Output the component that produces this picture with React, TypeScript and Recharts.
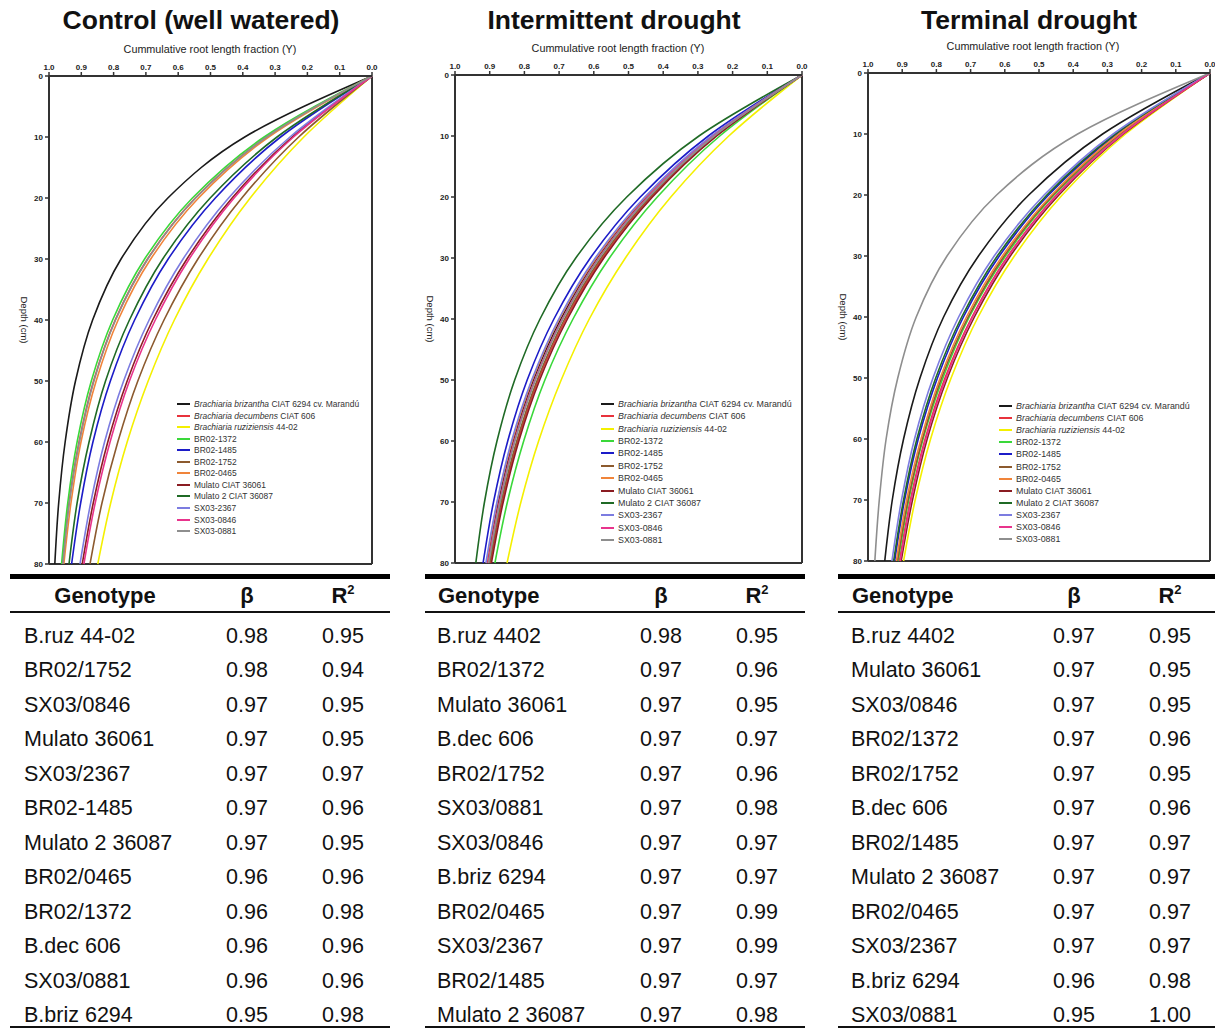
import React from "react";
import { LineChart, Line, XAxis, YAxis, ReferenceLine } from "recharts";

const FONT = "'Liberation Sans', Arial, sans-serif";

const depths = [0, 10, 20, 30, 40, 50, 60, 70, 80];
const depthTicks = [0, 10, 20, 30, 40, 50, 60, 70, 80];
const fractionTicks = [1, 0.9, 0.8, 0.7, 0.6, 0.5, 0.4, 0.3, 0.2, 0.1, 0];

const seriesKeys = ["briz", "dec", "ruz", "br1372", "br1485", "br1752", "br0465", "mul36061", "mul36087", "sx2367", "sx0846", "sx0881"];
const seriesColors = ["#1a1a1a", "#e8323c", "#f4f000", "#3ad83a", "#1c1cc8", "#8c5a2e", "#f0843a", "#8a1c22", "#1f6a25", "#7c7ce0", "#e8348c", "#8e8e8e"];
const legendItalic = ["Brachiaria brizantha", "Brachiaria decumbens", "Brachiaria ruziziensis", "", "", "", "", "", "", "", "", ""];
const legendRest = [" CIAT 6294 cv. Marandú", " CIAT 606", " 44-02", "BR02-1372", "BR02-1485", "BR02-1752", "BR02-0465", "Mulato CIAT 36061", "Mulato 2 CIAT 36087", "SX03-2367", "SX03-0846", "SX03-0881"];

// cumulative root length fraction (Y) at each depth, one row per genotype (seriesKeys order)
const controlCurves = [
  [0, 0.394, 0.632, 0.777, 0.865, 0.918, 0.95, 0.97, 0.982],
  [0, 0.327, 0.547, 0.695, 0.795, 0.862, 0.907, 0.938, 0.958],
  [0, 0.211, 0.377, 0.508, 0.612, 0.693, 0.758, 0.809, 0.849],
  [0, 0.334, 0.556, 0.704, 0.803, 0.869, 0.913, 0.942, 0.961],
  [0, 0.283, 0.485, 0.631, 0.735, 0.81, 0.864, 0.902, 0.93],
  [0, 0.227, 0.403, 0.539, 0.644, 0.725, 0.787, 0.836, 0.873],
  [0, 0.32, 0.537, 0.685, 0.786, 0.854, 0.901, 0.932, 0.954],
  [0, 0.247, 0.433, 0.573, 0.679, 0.758, 0.818, 0.863, 0.897],
  [0, 0.294, 0.501, 0.648, 0.751, 0.825, 0.876, 0.913, 0.938],
  [0, 0.254, 0.444, 0.585, 0.69, 0.769, 0.828, 0.871, 0.904],
  [0, 0.243, 0.427, 0.566, 0.671, 0.751, 0.811, 0.857, 0.892],
  [0, 0.326, 0.546, 0.694, 0.794, 0.861, 0.906, 0.937, 0.957],
];

const intermittentCurves = [
  [0, 0.257, 0.448, 0.59, 0.695, 0.774, 0.832, 0.875, 0.907],
  [0, 0.248, 0.435, 0.575, 0.68, 0.76, 0.819, 0.864, 0.898],
  [0, 0.211, 0.378, 0.509, 0.613, 0.694, 0.759, 0.81, 0.85],
  [0, 0.237, 0.417, 0.555, 0.66, 0.741, 0.802, 0.849, 0.885],
  [0, 0.27, 0.466, 0.61, 0.715, 0.792, 0.848, 0.889, 0.919],
  [0, 0.25, 0.438, 0.579, 0.684, 0.763, 0.822, 0.867, 0.9],
  [0, 0.259, 0.451, 0.593, 0.699, 0.777, 0.835, 0.878, 0.909],
  [0, 0.246, 0.431, 0.571, 0.676, 0.756, 0.816, 0.861, 0.895],
  [0, 0.297, 0.505, 0.652, 0.755, 0.828, 0.879, 0.915, 0.94],
  [0, 0.261, 0.453, 0.596, 0.701, 0.779, 0.837, 0.879, 0.911],
  [0, 0.255, 0.445, 0.586, 0.691, 0.77, 0.829, 0.872, 0.905],
  [0, 0.253, 0.442, 0.584, 0.689, 0.768, 0.827, 0.87, 0.903],
];

const terminalCurves = [
  [0, 0.314, 0.53, 0.677, 0.779, 0.848, 0.896, 0.929, 0.951],
  [0, 0.258, 0.449, 0.591, 0.696, 0.775, 0.833, 0.876, 0.908],
  [0, 0.247, 0.432, 0.572, 0.678, 0.757, 0.817, 0.862, 0.896],
  [0, 0.262, 0.456, 0.598, 0.704, 0.781, 0.839, 0.881, 0.912],
  [0, 0.273, 0.472, 0.616, 0.721, 0.797, 0.853, 0.893, 0.922],
  [0, 0.264, 0.459, 0.602, 0.707, 0.785, 0.841, 0.883, 0.914],
  [0, 0.267, 0.463, 0.607, 0.712, 0.789, 0.845, 0.887, 0.917],
  [0, 0.253, 0.442, 0.584, 0.689, 0.768, 0.827, 0.87, 0.903],
  [0, 0.277, 0.477, 0.622, 0.726, 0.802, 0.857, 0.896, 0.925],
  [0, 0.283, 0.485, 0.631, 0.735, 0.81, 0.864, 0.902, 0.93],
  [0, 0.256, 0.447, 0.589, 0.694, 0.772, 0.831, 0.874, 0.906],
  [0, 0.387, 0.624, 0.769, 0.859, 0.913, 0.947, 0.967, 0.98],
];

// tables
const controlNames = ["B.ruz 44-02", "BR02/1752", "SX03/0846", "Mulato 36061", "SX03/2367", "BR02-1485", "Mulato 2 36087", "BR02/0465", "BR02/1372", "B.dec 606", "SX03/0881", "B.briz 6294"];
const controlBeta = ["0.98", "0.98", "0.97", "0.97", "0.97", "0.97", "0.97", "0.96", "0.96", "0.96", "0.96", "0.95"];
const controlR2 = ["0.95", "0.94", "0.95", "0.95", "0.97", "0.96", "0.95", "0.96", "0.98", "0.96", "0.96", "0.98"];

const intermittentNames = ["B.ruz 4402", "BR02/1372", "Mulato 36061", "B.dec 606", "BR02/1752", "SX03/0881", "SX03/0846", "B.briz 6294", "BR02/0465", "SX03/2367", "BR02/1485", "Mulato 2 36087"];
const intermittentBeta = ["0.98", "0.97", "0.97", "0.97", "0.97", "0.97", "0.97", "0.97", "0.97", "0.97", "0.97", "0.97"];
const intermittentR2 = ["0.95", "0.96", "0.95", "0.97", "0.96", "0.98", "0.97", "0.97", "0.99", "0.99", "0.97", "0.98"];

const terminalNames = ["B.ruz 4402", "Mulato 36061", "SX03/0846", "BR02/1372", "BR02/1752", "B.dec 606", "BR02/1485", "Mulato 2 36087", "BR02/0465", "SX03/2367", "B.briz 6294", "SX03/0881"];
const terminalBeta = ["0.97", "0.97", "0.97", "0.97", "0.97", "0.97", "0.97", "0.97", "0.97", "0.97", "0.96", "0.95"];
const terminalR2 = ["0.95", "0.95", "0.95", "0.96", "0.95", "0.96", "0.97", "0.97", "0.97", "0.97", "0.98", "1.00"];

const toRows = (curves: number[][]) =>
  depths.map((d, i) => {
    const row: Record<string, number> = { depth: d };
    seriesKeys.forEach((k, j) => {
      row[k] = curves[j][i];
    });
    return row;
  });

interface PanelProps {
  title: string;
  titleX: number;
  axisTitleX: number;
  curves: number[][];
  chartLeft: number;
  plotLeft: number;
  plotRight: number;
  plotTop: number;
  plotBottom: number;
  legendX: number;
  legendY: number;
  legendStep: number;
  legendFont: number;
  names: string[];
  beta: string[];
  r2: string[];
  tableLeft: number;
  tableRight: number;
  textLeft: number;
  betaX: number;
  r2X: number;
  genoHeaderX: number | null;
}

const Panel: React.FC<PanelProps> = (p) => {
  const yAxisW = 30;
  const xAxisH = 22;
  const width = p.plotRight - p.chartLeft + 6;
  const height = p.plotBottom + 8;
  const rowY = (i: number) => 636 + i * 34.45;
  const cell = (x: number, y: number, text: React.ReactNode, align: "left" | "center", bold = false) => (
    <div
      style={{
        position: "absolute",
        left: align === "left" ? x : x - 60,
        width: align === "left" ? 220 : 120,
        top: y - 13,
        height: 26,
        lineHeight: "26px",
        fontSize: bold ? 22 : 21.5,
        fontWeight: bold ? "bold" : "normal",
        textAlign: align,
        color: "#111",
      }}
    >
      {text}
    </div>
  );

  return (
    <>
      <div style={{ position: "absolute", left: p.titleX - 220, width: 440, top: 4, textAlign: "center", fontSize: 26.5, fontWeight: "bold", color: "#111", lineHeight: "32px" }}>
        {p.title}
      </div>
      <div style={{ position: "absolute", left: p.axisTitleX - 150, width: 300, top: p.plotTop - 33, textAlign: "center", fontSize: 10.8, color: "#222" }}>
        Cummulative root length fraction (Y)
      </div>
      <div
        style={{
          position: "absolute",
          left: p.plotLeft - 55,
          top: (p.plotTop + p.plotBottom) / 2 - 6,
          width: 60,
          textAlign: "center",
          fontSize: 9.5,
          color: "#222",
          transform: "rotate(90deg)",
          transformOrigin: "30px 6px",
          lineHeight: "12px",
        }}
      >
        Depth (cm)
      </div>
      <div style={{ position: "absolute", left: p.chartLeft, top: 0 }}>
        <LineChart
          width={width}
          height={height}
          layout="vertical"
          data={toRows(p.curves)}
          margin={{ top: p.plotTop - xAxisH, left: p.plotLeft - p.chartLeft - yAxisW, right: 6, bottom: 8 }}
        >
          <XAxis
            xAxisId="top"
            orientation="top"
            type="number"
            domain={[0, 1]}
            reversed
            ticks={fractionTicks}
            tickFormatter={(v: number) => v.toFixed(1)}
            height={xAxisH}
            tickSize={4}
            interval={0}
            axisLine={{ stroke: "#333", strokeWidth: 2 }}
            tickLine={{ stroke: "#333", strokeWidth: 1.5 }}
            tick={{ fontSize: 8, fontWeight: "bold", fill: "#222", fontFamily: FONT }}
          />
          <YAxis
            yAxisId="left"
            dataKey="depth"
            type="number"
            domain={[0, 80]}
            ticks={depthTicks}
            width={yAxisW}
            tickSize={4}
            interval={0}
            axisLine={{ stroke: "#333", strokeWidth: 2 }}
            tickLine={{ stroke: "#333", strokeWidth: 1.5 }}
            tick={{ fontSize: 8, fontWeight: "bold", fill: "#222", fontFamily: FONT }}
          />
          <ReferenceLine xAxisId="top" yAxisId="left" x={0} stroke="#333" strokeWidth={2} ifOverflow="extendDomain" />
          <ReferenceLine xAxisId="top" yAxisId="left" y={80} stroke="#333" strokeWidth={2} ifOverflow="extendDomain" />
          {seriesKeys.map((k, j) => (
            <Line
              key={k}
              xAxisId="top"
              yAxisId="left"
              dataKey={k}
              type="monotone"
              stroke={seriesColors[j]}
              strokeWidth={1.6}
              dot={false}
              isAnimationActive={false}
            />
          ))}
        </LineChart>
      </div>
      {seriesKeys.map((k, j) => (
        <div key={k} style={{ position: "absolute", left: p.legendX, top: p.legendY + j * p.legendStep - 6, height: 12, display: "flex", alignItems: "center", fontSize: p.legendFont, color: "#333", whiteSpace: "nowrap" }}>
          <span style={{ display: "inline-block", width: 13, height: 2, background: seriesColors[j], marginRight: 4 }} />
          {legendItalic[j] ? <i>{legendItalic[j]}</i> : null}
          <span style={{ whiteSpace: "pre" }}>{legendRest[j]}</span>
        </div>
      ))}
      <div style={{ position: "absolute", left: p.tableLeft, width: p.tableRight - p.tableLeft, top: 574, height: 5, background: "#000" }} />
      <div style={{ position: "absolute", left: p.tableLeft, width: p.tableRight - p.tableLeft, top: 611, height: 2, background: "#111" }} />
      <div style={{ position: "absolute", left: p.tableLeft, width: p.tableRight - p.tableLeft, top: 1026, height: 1.5, background: "#111" }} />
      {p.genoHeaderX !== null ? cell(p.genoHeaderX, 596, "Genotype", "center", true) : cell(p.textLeft + 1, 596, "Genotype", "left", true)}
      {cell(p.betaX, 596, "β", "center", true)}
      {cell(p.r2X, 596, <>R<sup style={{ fontSize: 13, lineHeight: 0, verticalAlign: "9px" }}>2</sup></>, "center", true)}
      {p.names.map((n, i) => (
        <React.Fragment key={n}>
          {cell(p.textLeft, rowY(i), n, "left")}
          {cell(p.betaX, rowY(i), p.beta[i], "center")}
          {cell(p.r2X, rowY(i), p.r2[i], "center")}
        </React.Fragment>
      ))}
    </>
  );
};

export default function App() {
  return (
    <div style={{ position: "absolute", left: 0, top: 0, width: 1215, height: 1029, background: "#fff", fontFamily: FONT, overflow: "hidden" }}>
      <Panel
        title="Control (well watered)"
        titleX={201}
        axisTitleX={210}
        curves={controlCurves}
        chartLeft={0}
        plotLeft={49}
        plotRight={372}
        plotTop={76}
        plotBottom={564}
        legendX={177}
        legendY={404}
        legendStep={11.55}
        legendFont={8.45}
        names={controlNames}
        beta={controlBeta}
        r2={controlR2}
        tableLeft={10}
        tableRight={390}
        textLeft={24}
        betaX={247}
        r2X={343}
        genoHeaderX={105}
      />
      <Panel
        title="Intermittent drought"
        titleX={614}
        axisTitleX={618}
        curves={intermittentCurves}
        chartLeft={410}
        plotLeft={455}
        plotRight={802}
        plotTop={75}
        plotBottom={563}
        legendX={601}
        legendY={404}
        legendStep={12.36}
        legendFont={8.9}
        names={intermittentNames}
        beta={intermittentBeta}
        r2={intermittentR2}
        tableLeft={425}
        tableRight={805}
        textLeft={437}
        betaX={661}
        r2X={757}
        genoHeaderX={null}
      />
      <Panel
        title="Terminal drought"
        titleX={1029}
        axisTitleX={1033}
        curves={terminalCurves}
        chartLeft={826}
        plotLeft={868}
        plotRight={1210}
        plotTop={73}
        plotBottom={561}
        legendX={999}
        legendY={406}
        legendStep={12.1}
        legendFont={8.9}
        names={terminalNames}
        beta={terminalBeta}
        r2={terminalR2}
        tableLeft={838}
        tableRight={1215}
        textLeft={851}
        betaX={1074}
        r2X={1170}
        genoHeaderX={null}
      />
    </div>
  );
}
